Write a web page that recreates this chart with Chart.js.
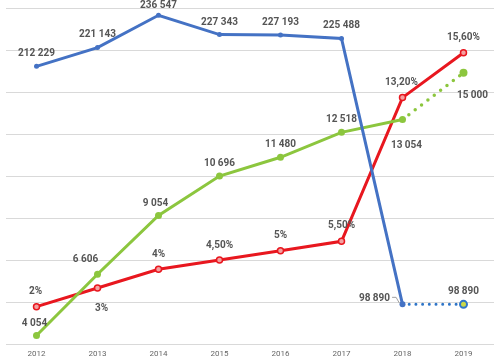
<!DOCTYPE html>
<html lang="en">
<head>
    <meta charset="UTF-8">
    <title>Chart</title>
    <script src="https://cdn.jsdelivr.net/npm/chart.js@4.4.0/dist/chart.umd.min.js"></script>
    <style>
        html, body { margin: 0; padding: 0; background: #fff; }
        #wrap { width: 500px; height: 364px; }
    </style>
</head>
<body>
    <div id="wrap"><canvas id="myChart"></canvas></div>
    <script>
        const years = ['2012', '2013', '2014', '2015', '2016', '2017', '2018', '2019']
        const blueValues = [212229, 221143, 236547, 227343, 227193, 225488, 98890, 98890]
        const greenValues = [4054, 6606, 9054, 10696, 11480, 12518, 13054, 15000]
        const redValues = [2, 3, 4, 4.5, 5, 5.5, 13.2, 15.6]

        // label offsets from each point (dx, dy)
        const labelOffsets = [
            [[0, -13], [0, -13], [0, -10], [0, -12], [0, -12], [0, -13], [-28, -6], [0, -13]],
            [[-2, -12], [-12, -15], [-3, -12], [0, -13], [0, -13], [0, -13], [4, 26], [9, 23]],
            [[-1, -15], [4, 20], [0, -15], [0, -15], [0, -15], [0, -16], [-1, -15], [0, -15]]
        ]

        function fmtNum(v) {
            return String(v).replace(/\B(?=(\d{3})+(?!\d))/g, ' ')
        }
        function fmtPct(v) {
            return (Number.isInteger(v) ? String(v) : v.toFixed(2).replace('.', ',')) + '%'
        }
        const formatters = [fmtNum, fmtNum, fmtPct]

        const dotted = (dash) => (ctx) => ctx.p0DataIndex === 6 ? dash : undefined
        const roundCap = (ctx) => ctx.p0DataIndex === 6 ? 'round' : undefined

        const labelPlugin = {
            id: 'pointLabels',
            afterDatasetsDraw(chart) {
                const c = chart.ctx
                c.save()
                c.font = 'bold 10px Roboto'
                c.fillStyle = '#555'
                c.textAlign = 'center'
                c.textBaseline = 'middle'
                chart.data.datasets.forEach((ds, i) => {
                    const meta = chart.getDatasetMeta(i)
                    meta.data.forEach((pt, j) => {
                        const [dx, dy] = labelOffsets[i][j]
                        const text = formatters[i](ds.data[j])
                        c.fillText(text, pt.x + dx, pt.y + dy)
                        if (i === 0 && j === 6) {
                            const w = c.measureText(text).width
                            c.strokeStyle = '#a0a0a0'
                            c.lineWidth = 1
                            c.beginPath()
                            c.moveTo(pt.x + dx + w / 2 + 2, pt.y + dy - 1)
                            c.lineTo(pt.x + dx + w / 2 + 6, pt.y + dy - 1)
                            c.lineTo(pt.x - 3, pt.y - 1)
                            c.stroke()
                        }
                    })
                })
                c.restore()
            }
        }

        const data = {
            labels: years,
            datasets: [
                {
                    label: 'Blue',
                    data: blueValues,
                    yAxisID: 'y',
                    borderColor: '#4472c4',
                    backgroundColor: '#4472c4',
                    pointBackgroundColor: ['#4472c4', '#4472c4', '#4472c4', '#4472c4', '#4472c4', '#4472c4', '#4472c4', '#c8d84a'],
                    pointBorderColor: ['#4472c4', '#4472c4', '#4472c4', '#4472c4', '#4472c4', '#4472c4', '#4472c4', '#2e75c8'],
                    pointBorderWidth: [0, 0, 0, 0, 0, 0, 0, 2],
                    pointRadius: [2.5, 2.5, 2.5, 2.5, 2.5, 2.5, 3, 3.5],
                    borderWidth: 3,
                    segment: { borderDash: dotted([0, 6.7]), borderCapStyle: roundCap, borderColor: (ctx) => ctx.p0DataIndex === 6 ? '#2e75c8' : undefined }
                },
                {
                    label: 'Green',
                    data: greenValues,
                    yAxisID: 'y2',
                    borderColor: '#8cc63e',
                    backgroundColor: '#8cc63e',
                    pointRadius: [3.5, 3.5, 3.5, 3.5, 3.5, 3.5, 3.5, 4],
                    pointBorderWidth: 0,
                    borderWidth: 3,
                    segment: { borderDash: dotted([0, 8]), borderCapStyle: roundCap, borderWidth: (ctx) => ctx.p0DataIndex === 6 ? 3.5 : undefined }
                },
                {
                    label: 'Red',
                    data: redValues,
                    yAxisID: 'y3',
                    borderColor: '#e8171f',
                    backgroundColor: '#f4a0a0',
                    pointBorderColor: '#e8171f',
                    pointBorderWidth: 1.5,
                    pointRadius: 3,
                    borderWidth: 3
                }
            ]
        }

        const config = {
            type: 'line',
            data,
            options: {
                responsive: true,
                maintainAspectRatio: false,
                animation: false,
                layout: { padding: { left: 4, right: 5, top: 8, bottom: 0 } },
                plugins: {
                    legend: { display: false },
                    tooltip: { enabled: false }
                },
                scales: {
                    x: {
                        offset: true,
                        grid: { display: false, drawTicks: false },
                        border: { display: false },
                        ticks: { color: '#666', font: { family: 'Roboto', size: 8, lineHeight: 1 }, padding: 6 }
                    },
                    y: {
                        min: 80000,
                        max: 240000,
                        grid: { color: '#d9d9d9', lineWidth: 1, drawTicks: false },
                        border: { display: false },
                        ticks: { display: false, stepSize: 20000 }
                    },
                    y2: { display: false, min: 3700, max: 17700 },
                    y3: { display: false, min: 0, max: 18 }
                }
            },
            plugins: [labelPlugin]
        }

        var myChart = new Chart(document.getElementById('myChart'), config)
    </script>
</body>
</html>
